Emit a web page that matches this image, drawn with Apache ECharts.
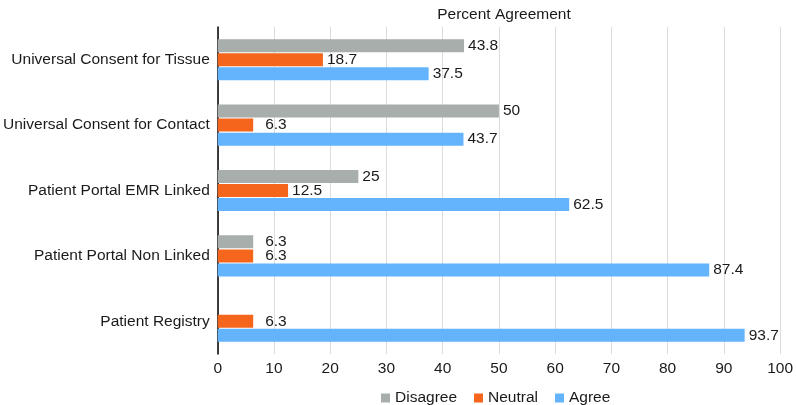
<!DOCTYPE html>
<html><head><meta charset="utf-8">
<script src="https://cdn.jsdelivr.net/npm/echarts@6/dist/echarts.min.js"></script>
<style>html,body{margin:0;padding:0;background:#fff}#c{width:796px;height:405px}</style>
</head><body><div id="c"></div>
<script>
const categories = ["Universal Consent for Tissue","Universal Consent for Contact","Patient Portal EMR Linked","Patient Portal Non Linked","Patient Registry"];
const disagree = [43.8, 50, 25, 6.3, 0];
const neutral = [18.7, 6.3, 12.5, 6.3, 6.3];
const agree = [37.5, 43.7, 62.5, 87.4, 93.7];
const xTicks = [0,10,20,30,40,50,60,70,80,90,100];

const font = 'Liberation Sans, Arial, Helvetica, sans-serif';
const fs = 15.5;
const chart = echarts.init(document.getElementById('c'));
function mk(name, values, color){
  return {
    name, type:'bar', barWidth:13, barGap:'8%',
    data: values.map(v => v < 10 ? {value:v, label:{distance:12}} : v),
    itemStyle:{color},
    label:{show:true, position:'right', distance:4, color:'#1a1a1a', fontSize:fs, fontFamily:font,
      formatter:p=>p.value===0?'':String(p.value)}
  };
}
chart.setOption({
  animation:false,
  title:{text:'Percent Agreement', left:499, textAlign:'center', top:2,
    textStyle:{fontSize:fs, fontWeight:'normal', color:'#1a1a1a', fontFamily:font}},
  legend:{top:385, left:376, itemWidth:9, itemHeight:9, itemGap:17, icon:'rect',
    textStyle:{fontSize:fs, color:'#1a1a1a', fontFamily:font},
    data:['Disagree','Neutral','Agree']},
  grid:{left:217, right:15, top:27, bottom:51},
  xAxis:{type:'value', min:xTicks[0], max:xTicks[xTicks.length-1], interval:10,
    axisLine:{show:false}, axisTick:{show:false},
    axisLabel:{fontSize:fs, color:'#1a1a1a', fontFamily:font, margin:7},
    splitLine:{lineStyle:{color:'#dcdcdc'}}},
  yAxis:{type:'category', data:categories, inverse:true,
    axisLine:{lineStyle:{color:'#000', width:1.5}}, axisTick:{show:false},
    axisLabel:{fontSize:fs, color:'#1a1a1a', fontFamily:font, margin:8}},
  series:[mk('Disagree',disagree,'#a7aeac'), mk('Neutral',neutral,'#f5651c'), mk('Agree',agree,'#63b4fd')]
});
</script></body></html>
